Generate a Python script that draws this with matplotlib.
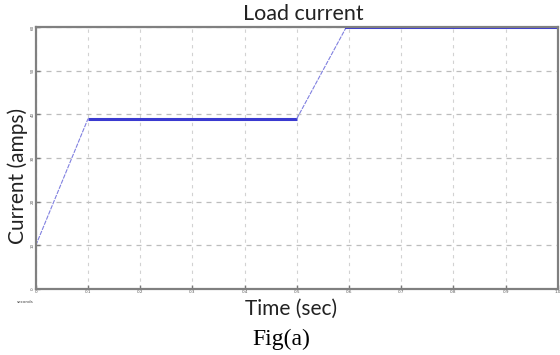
import matplotlib
matplotlib.use("Agg")
import matplotlib.pyplot as plt

# data (tick labels are unreadable, units guessed)
t = [0.0, 0.1, 0.5, 0.595, 1.0]
current = [10, 39, 39, 60, 60]
x_ticks = [0, 0.1, 0.2, 0.3, 0.4, 0.5, 0.6, 0.7, 0.8, 0.9, 1.0]
y_ticks = [0, 10, 20, 30, 40, 50, 60]

fig = plt.figure(figsize=(5.6, 3.55), dpi=100)
ax = fig.add_axes([0.064, 0.186, 0.932, 0.738])

# thin ramps, thicker flat parts
ax.plot(t[:2], current[:2], color="#8080e0", lw=0.8, ls=(0, (4, 1)))
ax.plot(t[1:3], current[1:3], color="#3a3ad0", lw=2.2, solid_capstyle="butt")
ax.plot(t[2:4], current[2:4], color="#8080e0", lw=0.8, ls=(0, (4, 1)))
ax.plot(t[3:], current[3:], color="#3a3ad0", lw=2.2)

ax.set_xlim(0, 1.0)
ax.set_ylim(0, 60)
ax.set_xticks(x_ticks)
ax.set_yticks(y_ticks)
ax.set_xticklabels([str(v) for v in x_ticks], fontsize=3, color="#555555")
ax.set_yticklabels([str(v) for v in y_ticks], fontsize=3, color="#555555", rotation=90, va="center")
ax.tick_params(length=3, width=1, color="#777777", direction="in", pad=1)
# horizontal grid dashed, vertical grid lighter
ax.grid(True, axis="y", ls=(0, (4, 4)), color="#bdbdbd", lw=0.9)
ax.grid(True, axis="x", ls=(0, (3, 4)), color="#d2d2d2", lw=0.8)
for s in ax.spines.values():
    s.set_color("#808080")
    s.set_linewidth(1.6)

fig.text(0.541, 0.96, "Load current", ha="center", va="center", fontsize=15.5, family="Lato", color="#222222")
fig.text(0.032, 0.505, "Current (amps)", ha="center", va="center", rotation=90, fontsize=15, family="Lato", color="#222222")
fig.text(0.520, 0.13, "Time (sec)", ha="center", va="center", fontsize=15, family="Lato", color="#222222")
fig.text(0.045, 0.148, "seconds", ha="center", va="center", fontsize=3, color="#444444")
fig.text(0.502, 0.045, "Fig(a)", ha="center", va="center", fontsize=17, family="Liberation Serif")

fig.savefig("out.png", dpi=100)
